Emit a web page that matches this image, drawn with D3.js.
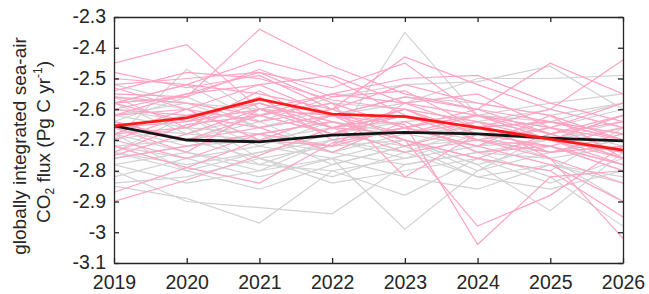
<!DOCTYPE html>
<html><head><meta charset="utf-8">
<script src="https://cdn.jsdelivr.net/npm/d3@7"></script>
<style>body{margin:0;background:#fff}svg{display:block}</style>
</head><body>
<script>
const years = [2019,2020,2021,2022,2023,2024,2025,2026];
const yTicks = [-2.3,-2.4,-2.5,-2.6,-2.7,-2.8,-2.9,-3.0,-3.1];
const grayMembers = [
 [-2.70,-2.47,-2.62,-2.68,-2.72,-2.70,-2.74,-2.70],
 [-2.66,-2.68,-2.70,-2.72,-2.35,-2.62,-2.66,-2.60],
 [-2.85,-2.89,-2.97,-2.80,-2.76,-2.72,-2.70,-2.66],
 [-2.80,-2.90,-2.92,-2.94,-2.78,-2.74,-2.76,-2.72],
 [-2.72,-2.76,-2.82,-2.76,-2.99,-2.80,-2.74,-2.70],
 [-2.68,-2.74,-2.78,-2.80,-2.88,-2.76,-2.80,-2.66],
 [-2.64,-2.70,-2.76,-2.72,-2.70,-2.78,-2.93,-2.74],
 [-2.76,-2.72,-2.70,-2.74,-2.78,-2.74,-2.82,-2.98],
 [-2.58,-2.52,-2.64,-2.56,-2.52,-2.51,-2.46,-2.60],
 [-2.62,-2.58,-2.66,-2.62,-2.58,-2.50,-2.50,-2.49],
 [-2.60,-2.64,-2.60,-2.66,-2.64,-2.62,-2.58,-2.55],
 [-2.74,-2.78,-2.74,-2.70,-2.66,-2.70,-2.64,-2.58],
 [-2.66,-2.62,-2.72,-2.64,-2.68,-2.66,-2.70,-2.62],
 [-2.70,-2.66,-2.68,-2.78,-2.72,-2.64,-2.68,-2.76],
 [-2.78,-2.74,-2.80,-2.70,-2.74,-2.82,-2.78,-2.84],
 [-2.56,-2.60,-2.70,-2.66,-2.62,-2.68,-2.72,-2.80],
 [-2.64,-2.56,-2.66,-2.60,-2.66,-2.62,-2.64,-2.68],
 [-2.72,-2.70,-2.64,-2.74,-2.68,-2.72,-2.66,-2.72],
 [-2.68,-2.80,-2.74,-2.68,-2.64,-2.74,-2.70,-2.64],
 [-2.62,-2.66,-2.78,-2.70,-2.76,-2.68,-2.76,-2.90],
 [-2.82,-2.76,-2.72,-2.76,-2.70,-2.78,-2.72,-2.78],
 [-2.58,-2.68,-2.62,-2.58,-2.60,-2.64,-2.60,-2.66],
 [-2.74,-2.62,-2.76,-2.82,-2.74,-2.66,-2.74,-2.70],
 [-2.66,-2.72,-2.68,-2.64,-2.70,-2.80,-2.68,-2.74],
 [-2.84,-2.82,-2.76,-2.84,-2.80,-2.76,-2.84,-2.76],
 [-2.52,-2.58,-2.60,-2.62,-2.56,-2.58,-2.62,-2.58],
 [-2.78,-2.84,-2.80,-2.76,-2.82,-2.86,-2.78,-2.82],
 [-2.74,-2.80,-2.86,-2.78,-2.72,-2.82,-2.86,-2.80]
];
const pinkMembers = [
 [-2.45,-2.39,-2.60,-2.55,-2.58,-2.62,-2.66,-2.70],
 [-2.55,-2.56,-2.34,-2.46,-2.55,-2.60,-2.68,-2.62],
 [-2.58,-2.52,-2.44,-2.50,-2.62,-2.70,-2.72,-2.78],
 [-2.90,-2.83,-2.75,-2.66,-2.62,-2.70,-2.66,-2.74],
 [-2.87,-2.79,-2.70,-2.72,-2.58,-2.66,-2.74,-2.68],
 [-2.72,-2.79,-2.84,-2.71,-2.66,-2.60,-2.64,-2.70],
 [-2.62,-2.60,-2.52,-2.62,-2.65,-3.04,-2.82,-2.80],
 [-2.68,-2.66,-2.58,-2.64,-2.70,-2.98,-2.88,-2.72],
 [-2.64,-2.70,-2.62,-2.58,-2.82,-2.68,-2.70,-2.76],
 [-2.50,-2.52,-2.55,-2.60,-2.43,-2.52,-2.60,-2.66],
 [-2.52,-2.50,-2.48,-2.53,-2.45,-2.62,-2.70,-2.74],
 [-2.56,-2.58,-2.62,-2.55,-2.50,-2.49,-2.58,-2.64],
 [-2.60,-2.62,-2.66,-2.62,-2.56,-2.60,-2.45,-2.55],
 [-2.66,-2.64,-2.60,-2.68,-2.62,-2.66,-2.60,-2.44],
 [-2.70,-2.62,-2.58,-2.66,-2.74,-2.70,-2.76,-3.02],
 [-2.76,-2.72,-2.68,-2.64,-2.70,-2.76,-2.80,-2.95],
 [-2.58,-2.64,-2.56,-2.70,-2.66,-2.72,-2.78,-2.90],
 [-2.54,-2.48,-2.50,-2.57,-2.60,-2.64,-2.70,-2.62],
 [-2.48,-2.53,-2.49,-2.60,-2.52,-2.58,-2.62,-2.70],
 [-2.62,-2.55,-2.52,-2.49,-2.58,-2.55,-2.66,-2.58],
 [-2.75,-2.68,-2.60,-2.62,-2.68,-2.62,-2.68,-2.64],
 [-2.64,-2.70,-2.66,-2.74,-2.64,-2.74,-2.72,-2.80],
 [-2.68,-2.60,-2.70,-2.62,-2.72,-2.66,-2.64,-2.68],
 [-2.56,-2.66,-2.54,-2.66,-2.60,-2.70,-2.74,-2.72],
 [-2.60,-2.55,-2.48,-2.58,-2.66,-2.62,-2.70,-2.78],
 [-2.53,-2.60,-2.64,-2.60,-2.70,-2.76,-2.68,-2.76],
 [-2.74,-2.65,-2.62,-2.68,-2.60,-2.68,-2.72,-2.66],
 [-2.66,-2.74,-2.60,-2.66,-2.68,-2.64,-2.76,-2.84],
 [-2.58,-2.56,-2.47,-2.56,-2.54,-2.66,-2.64,-2.70],
 [-2.70,-2.76,-2.68,-2.72,-2.66,-2.72,-2.62,-2.76]
];
const blackMean = [-2.654,-2.700,-2.706,-2.684,-2.675,-2.680,-2.694,-2.703];
const redMean   = [-2.654,-2.628,-2.567,-2.616,-2.624,-2.660,-2.697,-2.733];

const W = 649, H = 294;
const m = {left:114, right:26, top:17, bottom:31};
const svg = d3.select("body").append("svg").attr("width",W).attr("height",H);
const x = d3.scaleLinear().domain([2019,2026]).range([m.left, W-m.right]);
const y = d3.scaleLinear().domain([-3.1,-2.3]).range([H-m.bottom, m.top]);
const line = d3.line().x((d,i)=>x(years[i])).y(d=>y(d));
const axisColor = "#262626";
const font = "'Liberation Sans', Arial, Helvetica, sans-serif";

const g = svg.append("g");
g.append("defs").append("clipPath").attr("id","clip").append("rect")
 .attr("x",m.left).attr("y",m.top).attr("width",W-m.left-m.right).attr("height",H-m.top-m.bottom);
const plot = g.append("g").attr("clip-path","url(#clip)");
plot.selectAll(".gray").data(grayMembers).join("path")
 .attr("d",line).attr("fill","none").attr("stroke","#d2d2d2").attr("stroke-width",1.2);
plot.selectAll(".pink").data(pinkMembers).join("path")
 .attr("d",line).attr("fill","none").attr("stroke","#ffa3c2").attr("stroke-width",1.2);
plot.append("path").datum(blackMean).attr("d",line).attr("fill","none")
 .attr("stroke","#151515").attr("stroke-width",2.8);
plot.append("path").datum(redMean).attr("d",line).attr("fill","none")
 .attr("stroke","#ff1a1a").attr("stroke-width",2.8);

// axes
const fmt = d => String(+d.toFixed(1));
const ax = g.append("g").attr("transform",`translate(0,${H-m.bottom})`)
 .call(d3.axisBottom(x).tickValues(years).tickFormat(d3.format("d")).tickSizeInner(-5).tickSizeOuter(0).tickPadding(12));
const axTop = g.append("g").attr("transform",`translate(0,${m.top})`)
 .call(d3.axisTop(x).tickValues(years).tickFormat("").tickSizeInner(-5).tickSizeOuter(0));
const ay = g.append("g").attr("transform",`translate(${m.left},0)`)
 .call(d3.axisLeft(y).tickValues(yTicks).tickFormat(fmt).tickSizeInner(-5).tickSizeOuter(0).tickPadding(8));
const ayR = g.append("g").attr("transform",`translate(${W-m.right},0)`)
 .call(d3.axisRight(y).tickValues(yTicks).tickFormat("").tickSizeInner(-5).tickSizeOuter(0));
[ax,axTop,ay,ayR].forEach(a=>{
 a.select(".domain").attr("stroke",axisColor).attr("stroke-width",1.3);
 a.selectAll(".tick line").attr("stroke",axisColor).attr("stroke-width",1.3);
 a.selectAll("text").attr("fill",axisColor).style("font-family",font).style("font-size","19.5px");
});
ax.selectAll("text").attr("dy","0.71em");
ay.selectAll("text").attr("dy","0.3em");

// y label
const lab = g.append("text").attr("transform",`translate(26,146) rotate(-90)`)
 .attr("text-anchor","middle").attr("fill",axisColor)
 .style("font-family",font).style("font-size","19px");
lab.append("tspan").attr("x",0).attr("dy",0).text("globally integrated sea-air");
const l2 = g.append("text").attr("transform",`translate(50,142) rotate(-90)`)
 .attr("text-anchor","middle").attr("fill",axisColor)
 .style("font-family",font).style("font-size","19px");
l2.append("tspan").text("CO");
l2.append("tspan").attr("dy",4).style("font-size","12px").text("2");
l2.append("tspan").attr("dy",-4).text(" flux (Pg C yr");
l2.append("tspan").attr("dy",-8).style("font-size","12px").text("-1");
l2.append("tspan").attr("dy",8).text(")");
</script>
</body></html>
